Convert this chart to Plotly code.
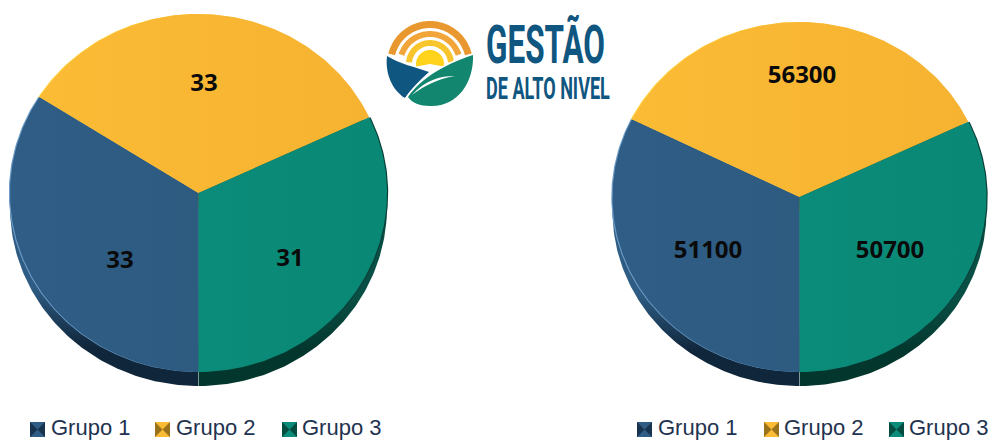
import numpy as np
import plotly.graph_objects as go

# chart data
groups = ["Grupo 1", "Grupo 2", "Grupo 3"]
left_values = [33, 33, 31]
right_values = [51100, 56300, 50700]

# colours per group: left/right end of the face, side wall (upper, lower), thin rim
face_from = ["#2F5D86", "#FCBB35", "#0B8B79"]
face_to = ["#2E5B80", "#F5B331", "#0A8876"]
wall_top = ["#2E5C83", "#7A5A14", "#0A4F45"]
wall_colors = ["#10263B", "#7A5A14", "#03372E"]
rim_colors = ["#6C9CC8", "#FFD84A", "#0A3F38"]
rim_shift = [-1.2, -1.2, 1.2]

DEPTH = 14
W, H = 993, 440

# pixel geometry: cx, cy, rx, ry and where the number of each slice sits
left_pie = dict(cx=198.5, cy=193, rx=188.5, ry=179,
                labels_xy=[(120, 262), (204, 85), (290, 260)])
right_pie = dict(cx=799.5, cy=197, rx=187, ry=175,
                 labels_xy=[(708, 252), (802, 77), (890, 252)])


def wedge(cx, cy, rx, ry, start, end):
    """Slice outline, angles in degrees clockwise from 12 o'clock."""
    a = np.radians(np.linspace(start, end, 120))
    xs = np.concatenate([[cx], cx + rx * np.sin(a), [cx]])
    ys = np.concatenate([[cy], cy - ry * np.cos(a), [cy]])
    return xs, ys


def add_pie(fig, values, pie):
    shares = np.array(values) / sum(values) * 360
    # first slice starts at 6 o'clock, going clockwise
    starts = 180 + np.concatenate([[0], np.cumsum(shares)[:-1]])
    geo = (pie["cx"], pie["cy"], pie["rx"], pie["ry"])

    for i in [1, 0, 2]:
        xs, ys = wedge(*geo, starts[i], starts[i] + shares[i])
        # gradient runs from the bottom of the slice upwards
        fig.add_trace(go.Scatter(
            x=xs, y=ys + DEPTH, mode="lines", fill="toself",
            fillgradient=dict(type="vertical",
                              colorscale=[[0, wall_colors[i]], [0.14, wall_colors[i]],
                                          [0.36, wall_top[i]], [1, wall_top[i]]]),
            line=dict(width=0), hoverinfo="skip", showlegend=False))
    for i in [1, 0, 2]:
        xs, ys = wedge(*geo, starts[i], starts[i] + shares[i])
        fig.add_trace(go.Scatter(x=xs + rim_shift[i], y=ys, mode="lines", fill="toself",
                                 fillcolor=rim_colors[i], line=dict(width=0),
                                 hoverinfo="skip", showlegend=False))
    for i in range(3):
        xs, ys = wedge(*geo, starts[i], starts[i] + shares[i])
        fig.add_trace(go.Scatter(
            x=xs, y=ys, mode="lines", fill="toself",
            fillgradient=dict(type="horizontal",
                              colorscale=[[0, face_from[i]], [1, face_to[i]]]),
            line=dict(width=0), name=groups[i], text=str(values[i]),
            hoverinfo="name+text", showlegend=False))

    # faint seam on the wall under 6 o'clock
    fig.add_trace(go.Scatter(x=[pie["cx"], pie["cx"]],
                             y=[pie["cy"] + pie["ry"], pie["cy"] + pie["ry"] + DEPTH],
                             mode="lines", line=dict(color="#7F9A9C", width=1),
                             hoverinfo="skip", showlegend=False))

    fig.add_trace(go.Scatter(
        x=[p[0] for p in pie["labels_xy"]], y=[p[1] for p in pie["labels_xy"]],
        mode="text", text=[str(v) for v in values],
        textfont=dict(family="Noto Sans", size=24, color="#0A0A0A", weight="bold"),
        hoverinfo="skip", showlegend=False))


def ring_path(cx, cy, r_out, r_in, a0, a1):
    a = np.radians(np.linspace(a0, a1, 40))
    outer = [(cx + r_out * np.sin(t), cy - r_out * np.cos(t)) for t in a]
    inner = [(cx + r_in * np.sin(t), cy - r_in * np.cos(t)) for t in a[::-1]]
    pts = outer + inner
    return "M" + " L".join(f"{x:.1f},{y:.1f}" for x, y in pts) + " Z"


def add_logo(fig):
    cx, cy = 430, 64
    def shape(path, color):
        fig.add_shape(type="path", path=path, fillcolor=color, line_width=0,
                      xref="x", yref="y")
    shape(ring_path(cx, cy, 43, 36, -76, 76), "#E9982F")
    shape(ring_path(cx, cy, 33, 27, -72, 72), "#F2A63A")
    shape(ring_path(cx, cy, 24, 18, -85, 85), "#F8C62C")
    shape(ring_path(cx, cy, 14, 0, -100, 100), "#FFD21C")
    # blue hill
    shape("M387,56 C400,64 415,67 429,72 C420,80 412,88 405,98 C392,90 385,73 387,56 Z", "#0F5680")
    # white gap and green leaf
    shape("M474,53 C476,82 458,108 430,107 C420,107 410,104 405,98 "
          "C420,78 440,64 474,53 Z", "#FFFFFF")
    shape("M473,55 C474,82 458,107 430,106 C420,106 412,103 408,97 "
          "C420,80 440,66 473,55 Z", "#12866F")
    # vein of the leaf
    shape("M412,95 C425,80 440,76 455,76 C438,79 425,85 412,95 Z", "#FFFFFF")


fig = go.Figure()
add_pie(fig, left_values, left_pie)
add_pie(fig, right_values, right_pie)
add_logo(fig)

# legend rows, built by hand because each pie has its own
legend_marks = [[30, 155, 282], [637, 764, 889]]
legend_texts = [[51, 176, 302], [658, 784, 909]]
for marks, texts in zip(legend_marks, legend_texts):
    for i in range(3):
        x0, y0, s = marks[i], 422, 15
        fig.add_shape(type="rect", x0=x0, x1=x0 + s, y0=y0, y1=y0 + s,
                      fillcolor=face_from[i], line_width=0)
        for side in (x0, x0 + s):
            mid = x0 + s / 2
            fig.add_shape(type="path", fillcolor=wall_colors[i], line_width=0, opacity=0.75,
                          path=f"M{side},{y0} L{mid},{y0 + s / 2} L{side},{y0 + s} Z")
        fig.add_annotation(x=texts[i], y=427.5, text=groups[i], showarrow=False,
                           xanchor="left", yanchor="middle", xshift=-2,
                           font=dict(family="Liberation Sans", size=22, color="#1F3350"))

fig.add_annotation(x=486, y=44, text="GESTÃO", showarrow=False, xanchor="left",
                   yanchor="middle", xshift=-2,
                   font=dict(family="Roboto", size=54, color="#0F5680", weight="bold"))
fig.add_annotation(x=486, y=88, text="DE ALTO NIVEL", showarrow=False, xanchor="left",
                   yanchor="middle", xshift=-2,
                   font=dict(family="Roboto", size=31, color="#0F5680", weight="bold"))

fig.update_layout(width=W, height=H, margin=dict(l=0, r=0, t=0, b=0),
                  paper_bgcolor="white", plot_bgcolor="white", showlegend=False)
fig.update_xaxes(range=[0, W], visible=False)
fig.update_yaxes(range=[H, 0], visible=False)

# squeeze the logo lettering to its condensed widths
squeeze_logo = """
document.body.style.margin = '0';
var widths = {'GESTÃO': 119, 'DE ALTO NIVEL': 124};
document.querySelectorAll('.annotation-text').forEach(function (t) {
    var w = widths[t.textContent];
    if (!w) return;
    t.style.transformBox = 'fill-box';
    t.style.transformOrigin = 'left center';
    t.style.transform = 'scaleX(' + (w / t.getBBox().width) + ')';
});
"""
fig.write_html("out.html", post_script=squeeze_logo, config=dict(displayModeBar=False))
